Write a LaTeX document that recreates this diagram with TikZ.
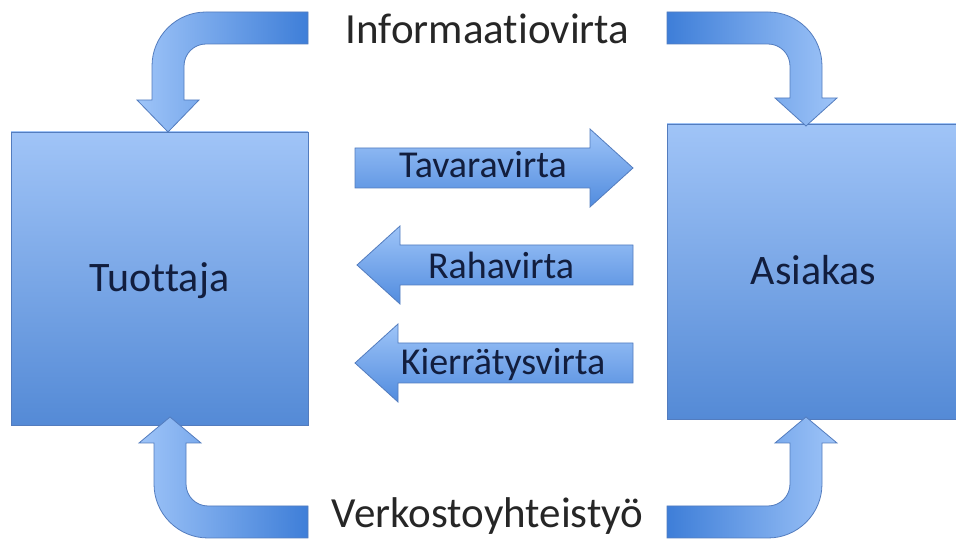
\documentclass[tikz,border=0pt]{standalone}
\usepackage{fontspec}
\setmainfont{Carlito}[Ligatures=NoCommon]
\usepackage{xcolor}
\usepackage{tikz}
\usetikzlibrary{calc}

\definecolor{boxtop}{RGB}{160,196,247}
\definecolor{boxbot}{RGB}{84,138,214}
\definecolor{edgeblue}{RGB}{83,124,190}
\definecolor{arrlight}{RGB}{158,196,248}
\definecolor{arrdark}{RGB}{62,126,216}
\definecolor{txtnavy}{RGB}{18,30,62}

\begin{document}
\begin{tikzpicture}[x=1pt, y=1pt,
    laatikko/.style={draw=edgeblue, line width=0.8pt,
                     top color=boxtop, bottom color=boxbot,
                     text=txtnavy, font=\fontsize{42}{48}\selectfont,
                     text height=27pt, text depth=0pt, inner sep=0pt},
    virta/.style={draw=edgeblue, line width=0.8pt,
                  top color=arrlight, bottom color=arrdark!80!arrlight},
    mutka/.style={draw=edgeblue, line width=0.8pt},
    virtateksti/.style={anchor=base, inner sep=0pt, text=txtnavy,
                        font=\fontsize{38}{44}\selectfont},
    otsikko/.style={anchor=base, inner sep=0pt, text=black!85,
                    font=\fontsize{43}{50}\selectfont}
  ]
  \useasboundingbox (0,0) rectangle (956,540);

  % 箱
  \node[laatikko, minimum width=297pt, minimum height=293pt] (tuottaja) at (159.5,261.5) {Tuottaja};
  \node[laatikko, minimum width=293pt, minimum height=295pt] (asiakas) at (813.5,268.5) {Asiakas};

  % 上の曲がった矢印 (左)
  \shade[mutka, left color=arrlight, middle color=arrlight, right color=arrdark]
    (308,528) -- (206,528) arc (90:180:54) -- (152,440) -- (137,440) -- (168,408)
    -- (199,440) -- (184,440) -- (184,474) arc (180:90:22) -- (308,496) -- cycle;

  % 上の曲がった矢印 (右)
  \shade[mutka, left color=arrdark, middle color=arrlight, right color=arrlight]
    (667,528) -- (768,528) arc (90:0:54) -- (822,442) -- (837,442) -- (806,414)
    -- (775,442) -- (790,442) -- (790,474) arc (0:90:22) -- (667,496) -- cycle;

  % 下の曲がった矢印 (左)
  \shade[mutka, left color=arrlight, middle color=arrlight, right color=arrdark]
    (308,2) -- (208,2) arc (270:180:54) -- (154,97) -- (139,97) -- (170,123)
    -- (201,97) -- (186,97) -- (186,56) arc (180:270:22) -- (308,34) -- cycle;

  % 下の曲がった矢印 (右)
  \shade[mutka, left color=arrdark, middle color=arrlight, right color=arrlight]
    (667,2) -- (768,2) arc (270:360:54) -- (822,97) -- (837,97) -- (806,123)
    -- (775,97) -- (790,97) -- (790,56) arc (360:270:22) -- (667,34) -- cycle;

  % 中央の矢印
  \shade[virta] (355,352) -- (590,352) -- (590,333) -- (633,372) -- (590,411)
    -- (590,392) -- (355,392) -- cycle;
  \shade[virta] (633,255) -- (400,255) -- (400,236) -- (357,275) -- (400,314)
    -- (400,295) -- (633,295) -- cycle;
  \shade[virta] (633,157) -- (398,157) -- (398,138) -- (355,177) -- (398,216)
    -- (398,197) -- (633,197) -- cycle;

  % テキスト
  \node[virtateksti] (tavara) at (483,362) {Tavaravirta};
  \node[virtateksti] (raha) at (501,261) {Rahavirta};
  \node[virtateksti] (kierratys) at (503,165) {Kierrätysvirta};
  \node[otsikko] (informaatio) at (487.5,496) {Informaatiovirta};
  \node[otsikko] (verkosto) at (487.5,12) {Verkostoyhteistyö};
\end{tikzpicture}
\end{document}
